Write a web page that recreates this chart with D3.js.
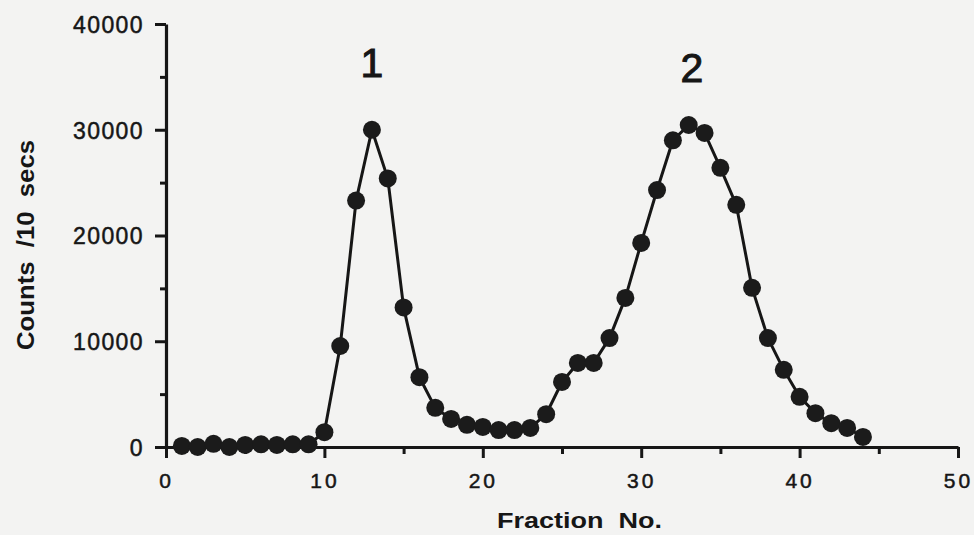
<!DOCTYPE html>
<html>
<head>
<meta charset="utf-8">
<script src="https://cdn.jsdelivr.net/npm/d3@7"></script>
<style>
  html, body { margin: 0; padding: 0; background: #f3f3f2; }
  svg { display: block; }
  text { font-family: "Liberation Sans", Arial, Helvetica, sans-serif; fill: #161616; white-space: pre; }
</style>
</head>
<body>
<svg id="chart" width="974" height="535"></svg>
<script>
// Fraction numbers and counts per 10 s
const fractions = [1, 2, 3, 4, 5, 6, 7, 8, 9, 10, 11, 12, 13, 14, 15, 16, 17, 18, 19, 20, 21, 22,
  23, 24, 25, 26, 27, 28, 29, 30, 31, 32, 33, 34, 35, 36, 37, 38, 39, 40, 41, 42, 43, 44];
const counts = [100, 0, 300, 0, 200, 250, 200, 250, 250, 1400, 9550, 23300, 30000, 25400, 13200,
  6600, 3700, 2650, 2100, 1900, 1600, 1600, 1800, 3100, 6150, 7950, 7950, 10300, 14100, 19300,
  24300, 29000, 30450, 29700, 26400, 22900, 15050, 10300, 7300, 4750, 3200, 2250, 1800, 950];

const xMajorTicks = [0, 10, 20, 30, 40, 50];
const xMinorTicks = [5, 15, 25, 35, 45];
const yMajorTicks = [0, 10000, 20000, 30000, 40000];
const yMinorTicks = [5000, 15000, 25000, 35000];

// Peak labels
const peakNames = ["1", "2"];
const peakFractions = [13, 33.2];
const peakHeights = [35000, 34500];

const svg = d3.select("#chart");
const ink = "#161616";

const x = d3.scaleLinear().domain([0, 50]).range([166, 958]);
const y = d3.scaleLinear().domain([0, 40000]).range([447, 24]);

// X axis: major and minor ticks
const xAxis = svg.append("g").attr("transform", `translate(0,${y(0)})`);
xAxis.call(d3.axisBottom(x).tickValues(xMajorTicks).tickSize(11).tickSizeOuter(0).tickFormat(d3.format("d")));
xAxis.append("g").call(d3.axisBottom(x).tickValues(xMinorTicks).tickSize(7).tickSizeOuter(0).tickFormat(""))
  .select(".domain").remove();
xAxis.selectAll(".domain").attr("stroke", ink).attr("stroke-width", 3.2);
xAxis.selectAll(".tick line").attr("stroke", ink).attr("stroke-width", 3);
xAxis.selectAll(".tick text")
  .attr("y", 41).attr("dy", 0)
  .style("font-size", "21px").style("letter-spacing", "3px")
  .attr("fill", ink).attr("stroke", ink).attr("stroke-width", 0.5);

// Y axis: major and minor ticks
const yAxis = svg.append("g").attr("transform", `translate(${x(0)},0)`);
yAxis.call(d3.axisLeft(y).tickValues(yMajorTicks).tickSize(11).tickSizeOuter(0).tickFormat(d3.format("d")));
yAxis.append("g").call(d3.axisLeft(y).tickValues(yMinorTicks).tickSize(6).tickSizeOuter(0).tickFormat(""))
  .select(".domain").remove();
yAxis.selectAll(".domain").attr("stroke", ink).attr("stroke-width", 3.2);
yAxis.selectAll(".tick line").attr("stroke", ink).attr("stroke-width", 3);
yAxis.selectAll(".tick text")
  .attr("x", -22).attr("dy", "0.36em")
  .style("font-size", "23px").style("letter-spacing", "1.4px")
  .attr("fill", ink).attr("stroke", ink).attr("stroke-width", 0.5);

// Axis titles
svg.append("text")
  .attr("x", 497).attr("y", 528)
  .attr("textLength", 165).attr("lengthAdjust", "spacingAndGlyphs")
  .style("font-size", "22px").style("font-weight", "bold")
  .text("Fraction  No.");

svg.append("text")
  .attr("transform", "translate(34,350) rotate(-90)")
  .attr("textLength", 210).attr("lengthAdjust", "spacingAndGlyphs")
  .style("font-size", "23px").style("font-weight", "bold")
  .text("Counts  /10  secs");

// Profile line and points
const data = fractions.map((f, i) => ({ f, c: counts[i] }));
const line = d3.line().x(d => x(d.f)).y(d => y(d.c));

svg.append("path")
  .datum(data)
  .attr("d", line)
  .attr("fill", "none")
  .attr("stroke", ink)
  .attr("stroke-width", 3)
  .attr("stroke-linejoin", "round");

svg.append("g")
  .selectAll("circle")
  .data(data)
  .join("circle")
  .attr("cx", d => x(d.f))
  .attr("cy", d => y(d.c))
  .attr("r", 9)
  .attr("fill", "#1b1b1b");

// Peak numbers
svg.append("g")
  .selectAll("text")
  .data(peakNames)
  .join("text")
  .attr("x", (d, i) => x(peakFractions[i]))
  .attr("y", (d, i) => y(peakHeights[i]))
  .attr("text-anchor", "middle")
  .style("font-size", "41px")
  .attr("stroke", ink).attr("stroke-width", 1)
  .text(d => d);
</script>
</body>
</html>
